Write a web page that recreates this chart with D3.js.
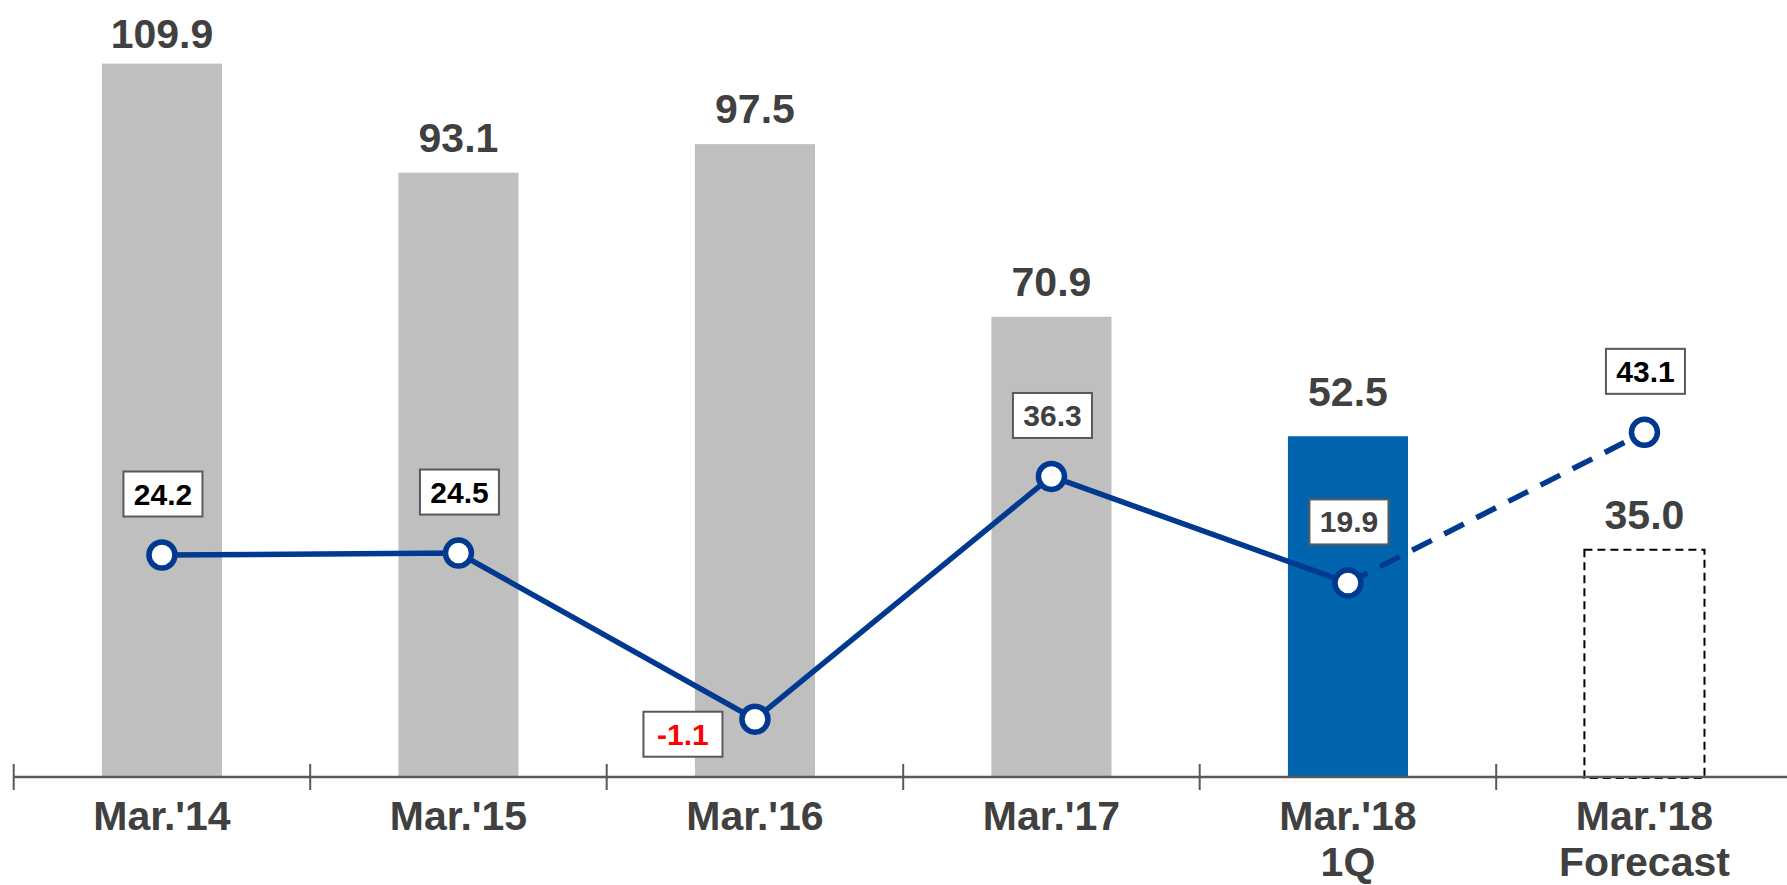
<!DOCTYPE html>
<html>
<head>
<meta charset="utf-8">
<script src="https://cdn.jsdelivr.net/npm/d3@7"></script>
<style>
  body { margin: 0; background: #fff; }
  text { font-family: "Liberation Sans", Arial, sans-serif; font-weight: bold; }
</style>
</head>
<body>
<div id="chart"></div>
<script>
// categories (multi-line axis labels)
const categories = [["Mar.'14"], ["Mar.'15"], ["Mar.'16"], ["Mar.'17"], ["Mar.'18", "1Q"], ["Mar.'18", "Forecast"]];
// bar series
const barValues = [109.9, 93.1, 97.5, 70.9, 52.5, 35.0];
const barKinds = ["actual", "actual", "actual", "actual", "current", "forecast"];
// line series (secondary axis)
const lineValues = [24.2, 24.5, -1.1, 36.3, 19.9, 43.1];

const W = 1787, H = 885;
const lineColor = "#00398f";

const svg = d3.select("#chart").append("svg")
    .attr("width", W)
    .attr("height", H);

const idx = d3.range(categories.length);

const x = d3.scaleBand()
    .domain(idx)
    .range([13.7, 1792.7])
    .padding(0);

const xEdge = d3.scaleLinear()
    .domain([0, categories.length])
    .range([13.7, 1792.7]);

const barW = x.bandwidth() * 0.405;
const cx = i => x(i) + x.bandwidth() / 2;

const y = d3.scaleLinear().domain([0, 110]).range([777, 63]);
const y2 = d3.scaleLinear().domain([-10, 100]).range([777, 63]);

// bars
svg.selectAll(".bar")
    .data(idx)
    .enter().append("rect")
    .attr("class", "bar")
    .attr("x", i => cx(i) - barW / 2)
    .attr("y", i => y(barValues[i]))
    .attr("width", barW)
    .attr("height", i => y(0) - y(barValues[i]) + 1)
    .attr("fill", i => barKinds[i] === "actual" ? "#bfbfbf" : barKinds[i] === "current" ? "#0064af" : "none")
    .attr("stroke", i => barKinds[i] === "forecast" ? "#000" : "none")
    .attr("stroke-width", 2)
    .attr("stroke-dasharray", i => barKinds[i] === "forecast" ? "8,5" : null);

// bar value labels
svg.selectAll(".bar-label")
    .data(idx)
    .enter().append("text")
    .attr("class", "bar-label")
    .attr("x", cx)
    .attr("y", i => y(barValues[i]) - (barKinds[i] === "current" ? 30 : i === 0 ? 16 : 21))
    .attr("text-anchor", "middle")
    .style("font-size", "41px")
    .style("fill", "#404040")
    .text(i => barValues[i].toFixed(1));

// x axis
svg.append("line")
    .attr("x1", xEdge(0)).attr("x2", W)
    .attr("y1", y(0)).attr("y2", y(0))
    .attr("stroke", "#595959")
    .attr("stroke-width", 2.5);

svg.selectAll(".tick")
    .data(d3.range(categories.length + 1))
    .enter().append("line")
    .attr("class", "tick")
    .attr("x1", xEdge).attr("x2", xEdge)
    .attr("y1", y(0) - 13).attr("y2", y(0) + 13)
    .attr("stroke", "#595959")
    .attr("stroke-width", 2);

const axisLabels = svg.selectAll(".axis-label")
    .data(idx)
    .enter().append("text")
    .attr("class", "axis-label")
    .attr("text-anchor", "middle")
    .style("font-size", "41px")
    .style("fill", "#404040");

axisLabels.selectAll("tspan")
    .data(i => categories[i].map(t => ({ t, i })))
    .enter().append("tspan")
    .attr("x", d => cx(d.i))
    .attr("y", (d, k) => 830 + k * 46)
    .text(d => d.t);

// line: solid for actuals, dashed to forecast
const line = d3.line()
    .x(i => cx(i))
    .y(i => y2(lineValues[i]));

svg.append("path")
    .attr("d", line(idx.slice(0, 5)))
    .attr("fill", "none")
    .attr("stroke", lineColor)
    .attr("stroke-width", 5.5);

svg.append("path")
    .attr("d", line(idx.slice(4)))
    .attr("fill", "none")
    .attr("stroke", lineColor)
    .attr("stroke-width", 5.5)
    .attr("stroke-dasharray", "22,14");

svg.selectAll(".dot")
    .data(idx)
    .enter().append("circle")
    .attr("class", "dot")
    .attr("cx", cx)
    .attr("cy", i => y2(lineValues[i]))
    .attr("r", 13)
    .attr("fill", "#fff")
    .attr("stroke", lineColor)
    .attr("stroke-width", 5.5);

// boxed line labels
const boxW = 79, boxH = 45;
const labelColor = (v, i) => v < 0 ? "#ff0000" : (i === 3 || i === 4) ? "#404040" : "#000";

const boxes = svg.selectAll(".line-label")
    .data(idx)
    .enter().append("g")
    .attr("class", "line-label")
    .attr("transform", i => {
        const v = lineValues[i];
        const px = cx(i), py = y2(v);
        const bx = v < 0 ? px - 72 : px + 1;
        const by = v < 0 ? py + 15 : py - 61;
        return `translate(${bx}, ${by})`;
    });

boxes.append("rect")
    .attr("x", -boxW / 2)
    .attr("y", -boxH / 2)
    .attr("width", boxW)
    .attr("height", boxH)
    .attr("fill", "#fff")
    .attr("stroke", "#595959")
    .attr("stroke-width", 2);

boxes.append("text")
    .attr("text-anchor", "middle")
    .attr("y", 10.5)
    .style("font-size", "30px")
    .style("fill", i => labelColor(lineValues[i], i))
    .text(i => lineValues[i].toFixed(1));
</script>
</body>
</html>
